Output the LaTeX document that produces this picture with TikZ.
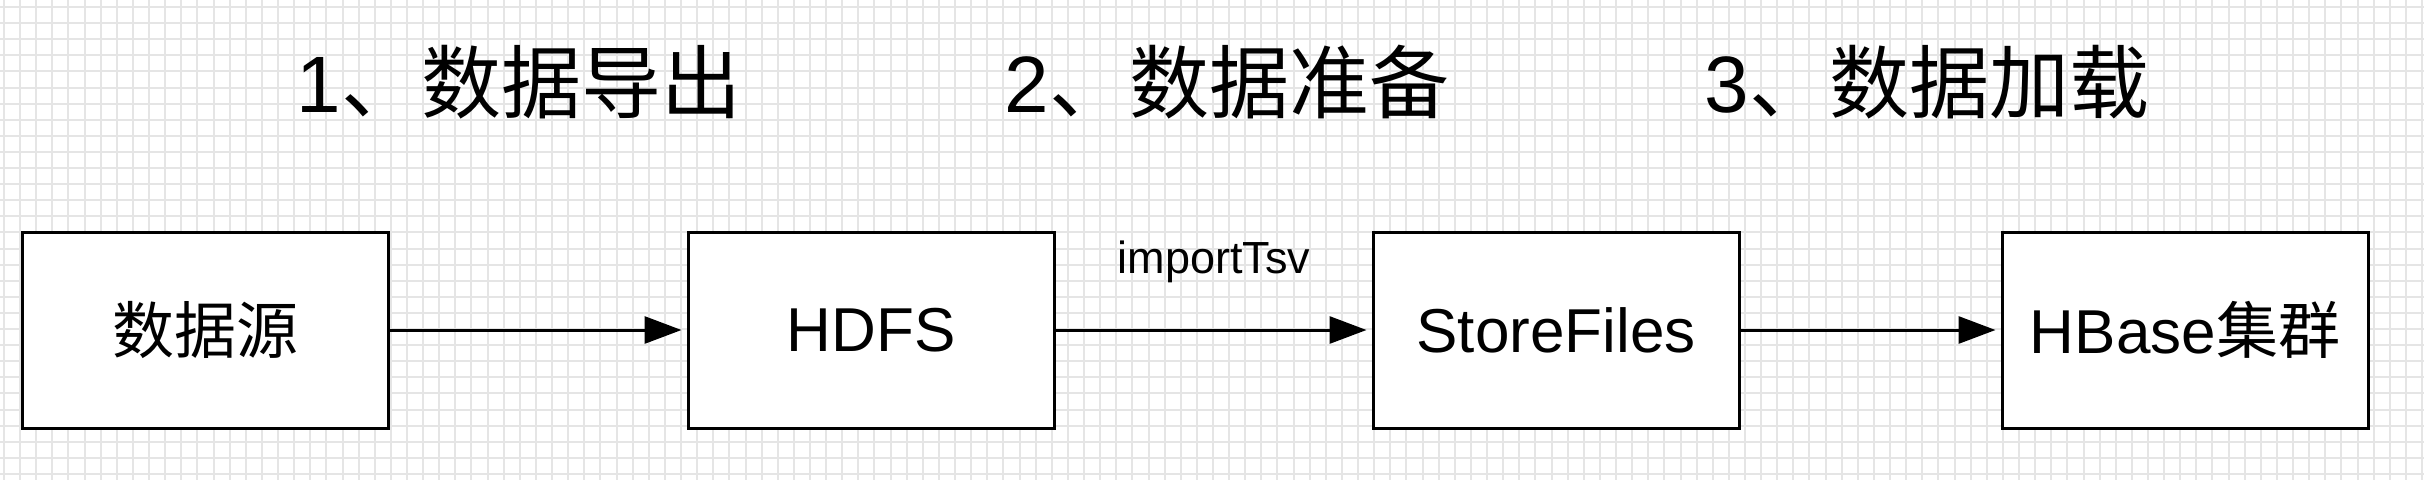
\documentclass[tikz,border=0pt]{standalone}
\usepackage{fontspec}
\setmainfont{Liberation Sans}
\newfontfamily\cjk{Noto Sans CJK SC}
\usetikzlibrary{arrows.meta}
\definecolor{gridgray}{RGB}{229,229,229}
\begin{document}
\begin{tikzpicture}[x=1pt,y=-1pt,
  box/.style={draw=black, line width=3pt, fill=white, minimum width=366pt,
    minimum height=196pt, inner sep=0pt, font=\fontsize{62}{70}\selectfont},
  steptitle/.style={anchor=base, inner sep=0pt, font=\fontsize{80}{90}\selectfont},
  edgelabel/.style={anchor=base, inner sep=0pt, font=\fontsize{45}{50}\selectfont},
  conn/.style={draw=black, line width=3pt, -{Triangle[length=37pt,width=27pt]}, shorten >=5pt},
  gridline/.style={draw=gridgray, line width=2pt}]
\fill[white] (0,0) rectangle (2424,480);
\useasboundingbox (0,0) rectangle (2424,480);
% background grid
\foreach \i in {0,...,150} \draw[gridline] ({4+16.12*\i},0) -- ({4+16.12*\i},480);
\foreach \j in {0,...,29} \draw[gridline] (0,{7+16.1*\j}) -- (2424,{7+16.1*\j});
% step titles
\node[steptitle] (t1) at (519,112) {1{\cjk 、数据导出}};
\node[steptitle] (t2) at (1227,112) {2{\cjk 、数据准备}};
\node[steptitle] (t3) at (1927,112) {3{\cjk 、数据加载}};
% boxes
\node[box] (b1) at (205,330) {{\cjk 数据源}};
\node[box] (b2) at (871,330) {HDFS};
\node[box] (b3) at (1556,330) {StoreFiles};
\node[box] (b4) at (2185,330) {HBase{\cjk 集群}};
% connectors
\draw[conn] (b1) -- (b2);
\draw[conn] (b2) -- (b3);
\draw[conn] (b3) -- (b4);
\node[edgelabel] (lbl) at (1214,273) {importTsv};
\end{tikzpicture}
\end{document}
